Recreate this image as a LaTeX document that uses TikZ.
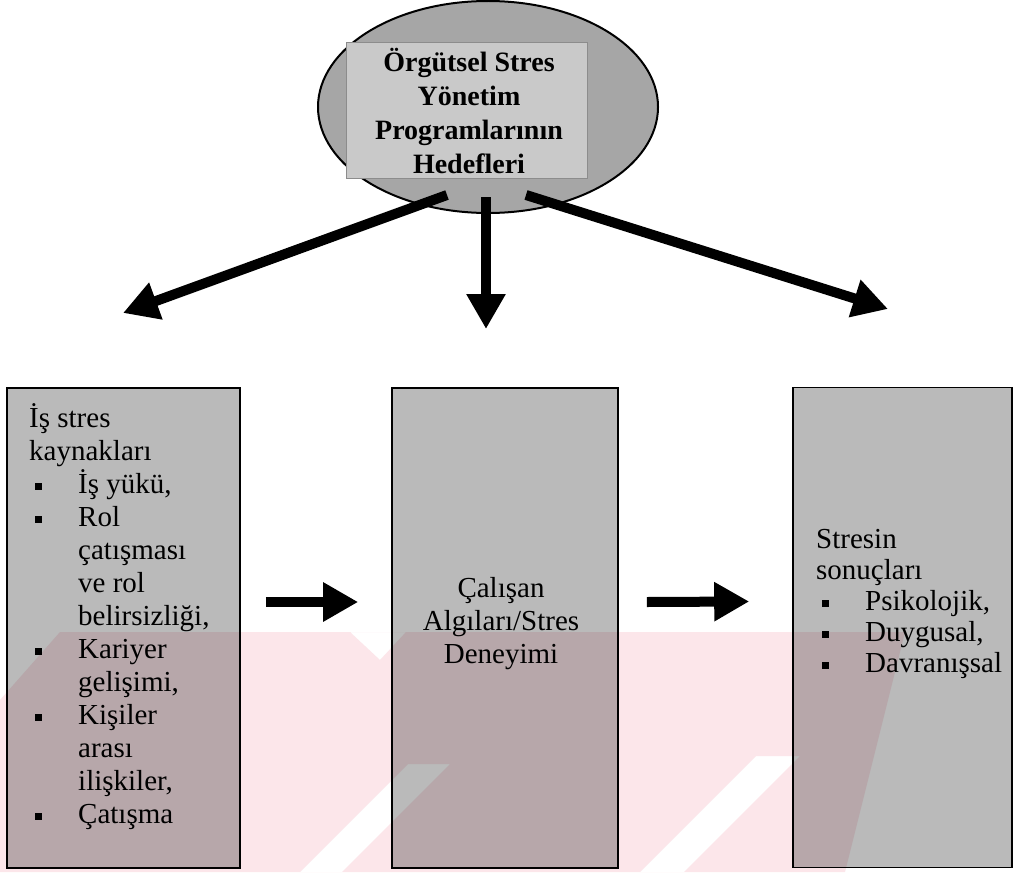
\documentclass[tikz,border=0pt]{standalone}
\usepackage{fontspec}
\setmainfont{Liberation Serif}
\usetikzlibrary{arrows.meta,shapes.geometric,calc}
% square list bullet and the matching hanging indent
\newcommand\sqbullet{\makebox[49pt][l]{\hspace*{6pt}\raisebox{3pt}{\rule{7pt}{7pt}}}}
\newcommand\hangpad{\hspace*{49pt}}
\definecolor{wmpink}{HTML}{FCE6EA}
\begin{document}
\begin{tikzpicture}[x=1pt,y=-1pt,
  panel/.style={draw=black,line width=1.6pt,fill=black!27,inner sep=0pt},
  bigarrow/.style={line width=10pt,-{Triangle[length=35pt,width=37pt]}},
  body/.style={font=\fontsize{29}{33}\selectfont,inner sep=0pt,align=left},
]
\useasboundingbox (0,0) rectangle (1016,872);
\fill[white] (0,0) rectangle (1016,872);

% goal ellipse with its inner label panel
\node[ellipse,draw=black,line width=2pt,fill=black!35,inner sep=0pt,
      minimum width=340pt,minimum height=212pt] (goal) at (488,107) {};
\node[draw=black!45,line width=0.8pt,fill=black!21,inner sep=0pt,
      minimum width=241pt,minimum height=136pt] (goalpanel) at (466.5,110) {};
\node[font=\bfseries\fontsize{28}{34}\selectfont,align=center,inner sep=0pt]
      (goaltext) at (469,111) {Örgütsel Stres\\Yönetim\\Programlarının\\Hedefleri};

% three stage panels
\node[panel,minimum width=233pt,minimum height=480pt] (src) at (123.5,628) {};
\node[panel,minimum width=226pt,minimum height=480pt] (exp) at (505,628) {};
\node[panel,minimum width=219pt,minimum height=480pt] (out) at (902.5,627.5) {};

\node[body,anchor=north west] (srctext) at (29,401)
  {\rule{0pt}{26pt}İş stres\\
   kaynakları\\
   \sqbullet İş yükü,\\
   \sqbullet Rol\\
   \hangpad çatışması\\
   \hangpad ve rol\\
   \hangpad belirsizliği,\\
   \sqbullet Kariyer\\
   \hangpad gelişimi,\\
   \sqbullet Kişiler\\
   \hangpad arası\\
   \hangpad ilişkiler,\\
   \sqbullet Çatışma};

\node[font=\fontsize{29}{33}\selectfont,align=center,inner sep=0pt]
  (exptext) at (501,624) {Çalışan\\Algıları/Stres\\Deneyimi};

\node[body,font=\fontsize{29}{31}\selectfont,anchor=north west] (outtext) at (816,522)
  {\rule{0pt}{26pt}Stresin\\
   sonuçları\\
   \sqbullet Psikolojik,\\
   \sqbullet Duygusal,\\
   \sqbullet Davranışsal};

% arrow ends below the ellipse
\coordinate (tipL) at (123,313);
\coordinate (tipM) at (486,329);
\coordinate (tipR) at (888,309);

\draw[bigarrow] ($(goal.center)+(-41,88)$) -- (tipL);
\draw[bigarrow] ($(goal.center)+(-2,90)$) -- (tipM);
\draw[bigarrow] ($(goal.center)+(38,88)$) -- (tipR);

\draw[bigarrow] ($(src.east)+(25,-26)$) -- ($(exp.west)+(-33,-26)$);
\draw[bigarrow] ($(exp.east)+(28,-26)$) -- ($(out.west)+(-43,-26)$);

% faint background stamp over the lower half
\begin{scope}[blend mode=multiply]
  \fill[wmpink,even odd rule]
    (60,632) -- (905,632) -- (845,872) -- (0,872) -- (0,700) -- cycle
    (300,872) -- (342,872) -- (450,764) -- (408,764) -- cycle
    (640,872) -- (684,872) -- (800,756) -- (756,756) -- cycle
    (350,632) -- (406,632) -- (380,660) -- cycle;
\end{scope}
\end{tikzpicture}
\end{document}
